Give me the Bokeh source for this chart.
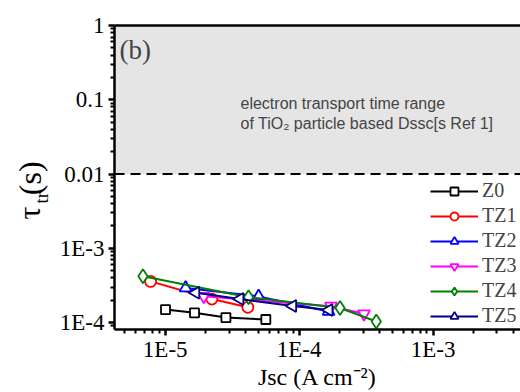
import math
from bokeh.plotting import figure
from bokeh.layouts import row
from bokeh.models import (FixedTicker, CustomJSTickFormatter, BoxAnnotation, Span, Label, LogAxis, Range1d)
from bokeh.core.properties import value
from bokeh.embed import file_html
from bokeh.resources import INLINE

# ---- data ----
z0_x = [1.005e-5, 1.655e-5, 2.84e-5, 5.64e-5]
z0_y = [1.494e-4, 1.349e-4, 1.167e-4, 1.097e-4]

tz1_x = [7.78e-6, 2.23e-5, 4.14e-5]
tz1_y = [3.58e-4, 2.07e-4, 1.60e-4]

tz2_x = [1.42e-5, 4.98e-5, 1.66e-4]
tz2_y = [2.92e-4, 2.25e-4, 1.41e-4]

tz3_x = [1.94e-5, 1.73e-4, 3.05e-4]
tz3_y = [2.25e-4, 1.66e-4, 1.31e-4]

tz4_x = [6.82e-6, 4.19e-5, 2.02e-4, 3.77e-4]
tz4_y = [4.20e-4, 2.19e-4, 1.57e-4, 1.03e-4]

tz5_x = [1.69e-5, 3.61e-5, 8.95e-5, 1.67e-4]
tz5_y = [2.51e-4, 2.07e-4, 1.67e-4, 1.47e-4]

x_major = [1e-5, 1e-4, 1e-3]
y_major = [1e-4, 1e-3, 1e-2, 1e-1, 1.0]
ref_range_low = 0.01
ref_range_high = 1.0

series = [
    ("Z0", z0_x, z0_y, "black", "square", 0.0, 9),
    ("TZ1", tz1_x, tz1_y, "#ff0000", "circle", 0.0, 11),
    ("TZ2", tz2_x, tz2_y, "#0000ff", "triangle", 0.0, 12),
    ("TZ3", tz3_x, tz3_y, "#ff00ff", "inverted_triangle", 0.0, 12),
    ("TZ4", tz4_x, tz4_y, "#008000", "diamond", 0.0, 14),
    ("TZ5", tz5_x, tz5_y, "#000080", "triangle", math.pi / 2, 12),
]

SERIF = "Liberation Serif"
LEFT_W = 56

# ---- narrow panel holding the rotated y-axis title ----
q = figure(width=LEFT_W, height=392, x_range=Range1d(0, LEFT_W), y_range=Range1d(0, 392),
           output_backend="svg", toolbar_location=None, x_axis_location=None, y_axis_location=None,
           min_border_left=0, min_border_right=0, min_border_top=0, min_border_bottom=0)
q.outline_line_color = None
q.grid.visible = False
q.background_fill_color = "white"
q.border_fill_color = "white"
q.text(x=[28], y=[150], text=["\u03c4"], angle=math.pi / 2, text_font=value(SERIF),
       text_font_size="32px", text_baseline="middle", text_align="center", text_color="black")
q.text(x=[41], y=[170], text=["tr"], angle=math.pi / 2, text_font=value(SERIF),
       text_font_size="19px", text_baseline="middle", text_align="center", text_color="black")
q.text(x=[29], y=[195], text=["(s)"], angle=math.pi / 2, text_font=value(SERIF),
       text_font_size="32px", text_baseline="middle", text_align="center", text_color="black")

# ---- main plot ----
p = figure(width=520 - LEFT_W, height=392, x_axis_type="log", y_axis_type="log",
           x_range=(4.18e-6, 4.5e-3), y_range=(8.05e-5, 1.0),
           output_backend="svg", toolbar_location=None,
           min_border_left=112 - LEFT_W, min_border_right=0, min_border_top=25, min_border_bottom=62)
p.background_fill_color = "white"
p.border_fill_color = "white"
p.outline_line_color = None
p.grid.visible = False

# grey reference region and dashed limit
p.add_layout(BoxAnnotation(bottom=ref_range_low, top=ref_range_high * 10, fill_color="#e5e5e5",
                           fill_alpha=1.0, line_color=None, level="underlay"))
p.add_layout(Span(location=ref_range_low, dimension="width", line_color="black",
                  line_width=2, line_dash="10 6"))

for name, xs, ys, color, marker, ang, size in series:
    p.line(xs, ys, line_color=color, line_width=2, legend_label=name)
    p.scatter(xs, ys, marker=marker, angle=ang, size=size, line_color=color, line_width=1.8,
              fill_color="white", legend_label=name)

def minor(decades):
    out = []
    for d in decades:
        for k in range(2, 10):
            out.append(d * k)
    return out

fmt = CustomJSTickFormatter(code="""
    if (tick >= 0.009) { return String(+tick.toPrecision(3)); }
    return "1E" + Math.round(Math.log10(tick));
""")

xa = p.xaxis[0]
xa.ticker = FixedTicker(ticks=x_major, minor_ticks=minor([1e-6, 1e-5, 1e-4, 1e-3]))
ya = p.yaxis[0]
ya.ticker = FixedTicker(ticks=y_major, minor_ticks=minor([1e-5, 1e-4, 1e-3, 1e-2, 1e-1]))
for ax in (xa, ya):
    ax.formatter = fmt
    ax.axis_line_width = 2.5
    ax.major_tick_line_width = 2.5
    ax.minor_tick_line_width = 2
    ax.major_tick_in = 0
    ax.major_tick_out = 6
    ax.minor_tick_in = 0
    ax.minor_tick_out = 4
    ax.major_label_text_font = SERIF
    ax.major_label_text_font_size = "23px"
    ax.major_label_text_color = "black"
xa.major_label_standoff = 1
ya.major_label_standoff = 4

xa.axis_label = "Jsc (A cm\u207b\u00b2)"
xa.axis_label_text_font = SERIF
xa.axis_label_text_font_size = "24px"
xa.axis_label_text_font_style = "normal"
xa.axis_label_text_color = "black"
xa.axis_label_standoff = -1

top = LogAxis(ticker=FixedTicker(ticks=[]), axis_line_width=2.5, major_label_text_font_size="0px",
              major_tick_out=0, minor_tick_out=0)
p.add_layout(top, "above")

def lab(x, y, text, size, font=SERIF):
    p.add_layout(Label(x=x, y=y, x_units="screen", y_units="screen", text=text,
                       text_font=font, text_font_size=size, text_baseline="alphabetic"))

lab(5, 280, "(b)", "27px")
lab(126, 226, "electron transport time range", "16px", font="Liberation Sans")
lab(126, 206, "of TiO\u2082 particle based Dssc[s Ref 1]", "16px", font="Liberation Sans")

lg = p.legend[0]
lg.location = (316, 2)
lg.background_fill_alpha = 0
lg.border_line_color = None
lg.padding = 0
lg.margin = 0
lg.glyph_width = 48
lg.glyph_height = 20
lg.label_height = 20
lg.spacing = 2
lg.label_standoff = 4
lg.label_text_font = SERIF
lg.label_text_font_size = "20px"
lg.label_text_baseline = "middle"

layout = row(q, p, spacing=0)
open("out.html", "w").write(file_html(layout, INLINE))
